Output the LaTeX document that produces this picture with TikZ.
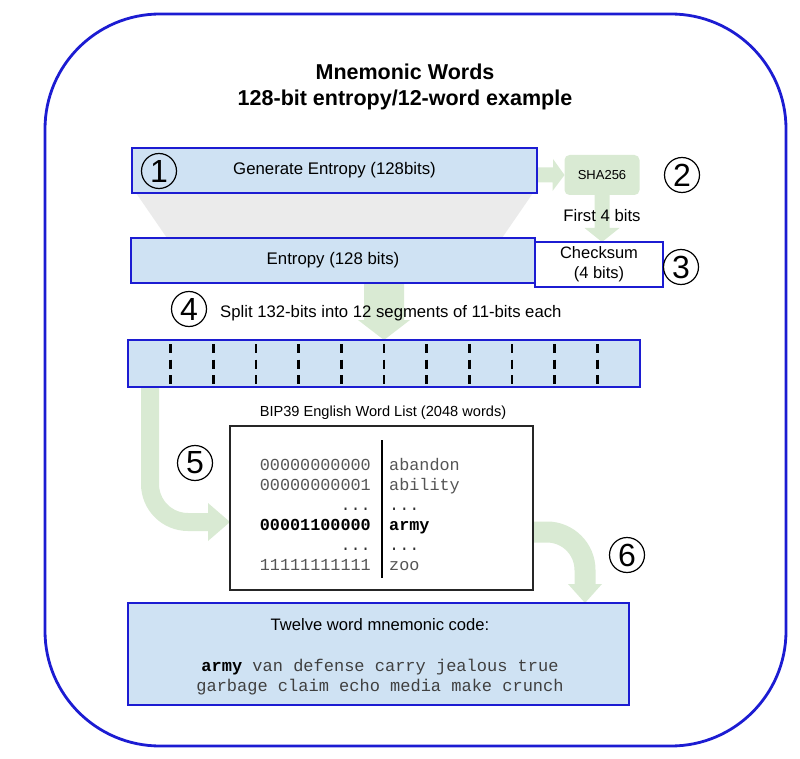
\documentclass[tikz,border=0pt]{standalone}
\usepackage{fontspec}
\setmainfont{Liberation Sans}
\newfontfamily\monofont{Liberation Mono}
\usetikzlibrary{calc,backgrounds}
\definecolor{boxblue}{HTML}{CFE2F3}
\definecolor{edgeblue}{HTML}{1C1CD2}
\definecolor{agreen}{HTML}{D9EAD3}
\definecolor{trapgray}{HTML}{EBEBEB}
\definecolor{listgray}{HTML}{555555}
\newcommand{\fsz}[2]{\fontsize{#1pt}{#2pt}\selectfont}
\begin{document}
\begin{tikzpicture}[x=1pt,y=-1pt,
  bluebox/.style={draw=edgeblue, line width=2.6pt, fill=boxblue, inner sep=0pt, outer sep=0pt, font=\fsz{16.8}{20}},
  greenbox/.style={fill=agreen, rounded corners=5pt, inner sep=0pt, outer sep=0pt, font=\fsz{13}{15}},
  num/.style={circle, draw=black, line width=1.2pt, minimum size=35pt, inner sep=0pt, font=\fsz{32}{32}},
  lcol/.style={anchor=base east, inner sep=0pt, font=\monofont\fsz{16.8}{20}, text=listgray},
  rcol/.style={anchor=base west, inner sep=0pt, font=\monofont\fsz{16.8}{20}, text=listgray},
  divider/.style={line width=2.4pt, black, dash pattern=on 9pt off 6.5pt},
  plain/.style={inner sep=0pt, font=\fsz{16.7}{20}}
]
\useasboundingbox (0,0) rectangle (800,759);
\draw[edgeblue, line width=2.8pt, rounded corners=115pt] (45,14) rectangle (786,746);

\node[font=\bfseries\fsz{21.5}{26}, align=center] (title) at (405,87) {Mnemonic Words\\128-bit entropy/12-word example};

% step 1 / 2 / 3
\node[bluebox, minimum width=405pt, minimum height=45pt] (gen) at (334.5,170.5) {Generate Entropy (128bits)};
\node[greenbox, minimum width=75pt, minimum height=40pt] (sha) at (602,175) {SHA256};
\node[bluebox, minimum width=404pt, minimum height=45pt] (ent) at (333,260.5) {Entropy (128 bits)};
\node[bluebox, fill=white, minimum width=128pt, minimum height=45pt, anchor=west, align=center, font=\fsz{16.5}{20}] (chk) at ($(ent.east)+(0,4)$) {Checksum\\(4 bits)};
\node[plain] (first) at (602,216) {First 4 bits};

% step 4
\node[plain, anchor=west] (split) at (220,313) {Split 132-bits into 12 segments of 11-bits each};
\node[bluebox, minimum width=512pt, minimum height=47pt] (seg) at (384,363.5) {};
\foreach \i in {1,...,11}
  \draw[divider] ($(seg.north west)!\i/12!(seg.north east)+(0,4)$) -- ($(seg.south west)!\i/12!(seg.south east)+(0,-3)$);

% step 5: word list
\node[font=\fsz{14.6}{17}] (listtitle) at (383,413) {BIP39 English Word List (2048 words)};
\node[draw=black!85, line width=1.1pt, fill=white, minimum width=303pt, minimum height=164pt, inner sep=0pt, outer sep=0pt] (list) at (381.5,508) {};
\draw[line width=1.3pt] ($(list.north)+(0.5,14)$) -- ($(list.south)+(0.5,-12)$);
\node[lcol] (l1) at (371,470) {00000000000};
\node[rcol] (r1) at (389,470) {abandon};
\node[lcol] (l2) at (371,490) {00000000001};
\node[rcol] (r2) at (389,490) {ability};
\node[lcol, text=black!80] (l3) at (371,510) {...};
\node[rcol, text=black!80] (r3) at (389,510) {...};
\node[lcol, text=black, font=\monofont\bfseries\fsz{16.8}{20}] (l4) at (371,530) {00001100000};
\node[rcol, text=black, font=\monofont\bfseries\fsz{16.8}{20}] (r4) at (389,530) {army};
\node[lcol, text=black!80] (l5) at (371,550) {...};
\node[rcol, text=black!80] (r5) at (389,550) {...};
\node[lcol] (l6) at (371,570) {11111111111};
\node[rcol] (r6) at (389,570) {zoo};

% step 6: mnemonic code
\node[bluebox, minimum width=501pt, minimum height=102pt] (words) at (378.5,654) {};
\node[plain, font=\fsz{16.6}{20}] (wtitle) at (380,625) {Twelve word mnemonic code:};
\node[font=\monofont\fsz{17}{20}, align=center, text=black!75] (wlist) at (380,677)
  {\textcolor{black}{\textbf{army}} van defense carry jealous true\\garbage claim echo media make crunch};

% circled step numbers
\node[num] (n1) at (159,171) {1};
\node[num] (n2) at (682,175) {2};
\node[num] (n3) at (681,267) {3};
\node[num] (n4) at (189,309) {4};
\node[num] (n5) at (195,463) {5};
\node[num] (n6) at (627,555) {6};

\begin{pgfonlayer}{background}
  \fill[trapgray] ($(gen.south west)+(4,0)$) -- ($(gen.south east)+(-4,0)$) -- ($(ent.north east)+(-33,0)$) -- ($(ent.north west)+(36,0)$) -- cycle;
  % gen -> sha
  \fill[agreen] (gen.east |- sha.west) ++(0,-7.5) -- ++(16,0) -- ++(0,-8.5) -- (sha.west) -- ++(-12,16) -- ++(0,-8.5) -- ++(-16,0) -- cycle;
  % sha -> checksum
  \fill[agreen] (sha.south) ++(-7.5,0) -- ++(0,33) -- ++(-10,0) -- (sha.south |- chk.north) -- ++(17.5,-14) -- ++(-10,0) -- ++(0,-33) -- cycle;
  % entropy -> segments
  \fill[agreen] (ent.south -| seg.north) ++(-20,0) -- ++(0,37) -- ++(-6,0) -- (seg.north) -- ++(26,-20) -- ++(-6,0) -- ++(0,-37) -- cycle;
  % segments -> word list
  \draw[agreen, line width=18pt, rounded corners=38pt] ($(seg.south west)+(22,-2)$) |- ($(list.west)+(-21,14)$);
  \fill[agreen] ($(list.west)+(-22,-5)$) -- ($(list.west)+(0,14)$) -- ($(list.west)+(-22,33)$) -- cycle;
  % word list -> mnemonic
  \draw[agreen, line width=21pt, rounded corners=38pt] ($(list.east)+(-2,24)$) -| ($(words.north east)+(-44,-18)$);
  \fill[agreen] ($(words.north east)+(-61,-19)$) -- ($(words.north east)+(-44,0)$) -- ($(words.north east)+(-27,-19)$) -- cycle;
\end{pgfonlayer}
\end{tikzpicture}
\end{document}
